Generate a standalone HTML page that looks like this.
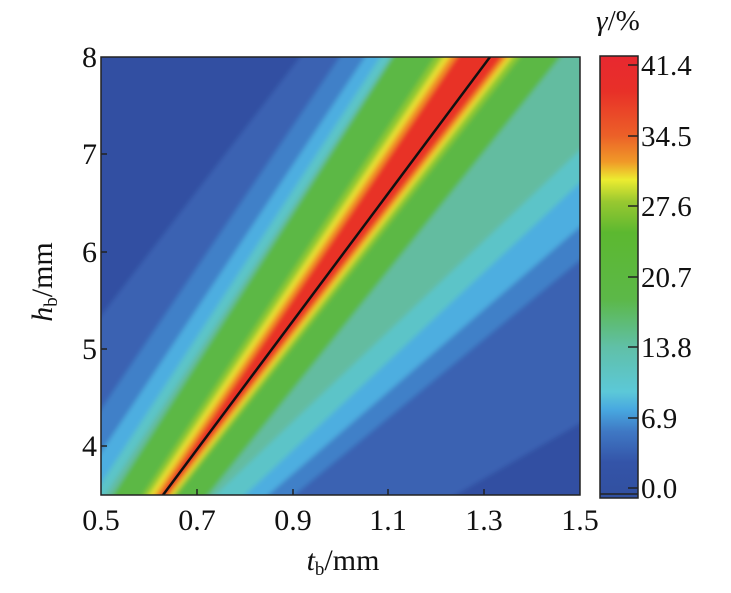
<!DOCTYPE html><html><head><style>body{margin:0;background:#fff}svg{display:block}text{font-family:"Liberation Serif",serif;fill:#111}</style></head><body>
<svg width="731" height="593" viewBox="0 0 731 593">
<defs>
<filter id="b" x="-10%" y="-10%" width="120%" height="120%"><feGaussianBlur stdDeviation="2.5"/></filter>
<linearGradient id="cb" x1="0" y1="0" x2="0" y2="1">
<stop offset="0" stop-color="#e82830"/>
<stop offset="0.08" stop-color="#e83028"/>
<stop offset="0.18" stop-color="#ec6028"/>
<stop offset="0.24" stop-color="#f09a28"/>
<stop offset="0.28" stop-color="#ecec30"/>
<stop offset="0.33" stop-color="#98c830"/>
<stop offset="0.40" stop-color="#5cb830"/>
<stop offset="0.55" stop-color="#5cb848"/>
<stop offset="0.66" stop-color="#60c0a8"/>
<stop offset="0.76" stop-color="#5cc8d8"/>
<stop offset="0.80" stop-color="#48a8e0"/>
<stop offset="0.85" stop-color="#3f78c4"/>
<stop offset="0.92" stop-color="#3454a8"/>
<stop offset="1" stop-color="#3150a0"/>
</linearGradient>
<clipPath id="c"><rect x="101" y="57" width="479" height="438"/></clipPath>
</defs>
<g clip-path="url(#c)">
<g filter="url(#b)">
<rect x="60" y="20" width="560" height="520" fill="#3250a2"/>
<polygon points="-56,520 321,30 1262,30 412,520" fill="#3a62b2"/>
<polygon points="26,520 358,30 860,30 264,520" fill="#4080c8"/>
<polygon points="56,520 383,30 809,30 239,520" fill="#4eaee0"/>
<polygon points="77,520 398,30 744,30 218,520" fill="#5cc4c8"/>
<polygon points="89,520 408,30 707,30 189,520" fill="#64bca0"/>
<polygon points="97,520 410,30 582,30 188,520" fill="#5cb844"/>
<polygon points="126,520 453,30 541,30 157,520" fill="#8cc830"/>
<polygon points="132,520 461,30 533,30 154,520" fill="#e8e030"/>
<polygon points="138,520 468,30 528,30 151,520" fill="#f09028"/>
<polygon points="143,520 475,30 523,30 148,520" fill="#e83028"/>
</g>
<line x1="163" y1="495" x2="490" y2="57" stroke="#111" stroke-width="2.5"/>
</g>
<rect x="101" y="57" width="479" height="438" fill="none" stroke="#222" stroke-width="1.5"/>
<g stroke="#222" stroke-width="1.5">
<line x1="197" y1="495" x2="197" y2="489"/><line x1="293" y1="495" x2="293" y2="489"/><line x1="388" y1="495" x2="388" y2="489"/><line x1="484" y1="495" x2="484" y2="489"/>
<line x1="101" y1="154" x2="107" y2="154"/><line x1="101" y1="252" x2="107" y2="252"/><line x1="101" y1="349" x2="107" y2="349"/><line x1="101" y1="446" x2="107" y2="446"/>
</g>
<g font-size="30" text-anchor="middle">
<text x="101" y="530">0.5</text><text x="197" y="530">0.7</text><text x="293" y="530">0.9</text><text x="388" y="530">1.1</text><text x="484" y="530">1.3</text><text x="580" y="530">1.5</text>
</g>
<g font-size="30" text-anchor="end">
<text x="97" y="67">8</text><text x="97" y="164">7</text><text x="97" y="262">6</text><text x="97" y="359">5</text><text x="97" y="456">4</text>
</g>
<text x="343" y="570" font-size="30" text-anchor="middle"><tspan font-style="italic">t</tspan><tspan font-size="19" dy="5">b</tspan><tspan dy="-5">/mm</tspan></text>
<text transform="translate(52,282) rotate(-90)" font-size="30" text-anchor="middle"><tspan font-style="italic">h</tspan><tspan font-size="19" dy="5">b</tspan><tspan dy="-5">/mm</tspan></text>
<rect x="600" y="56" width="38" height="442" fill="url(#cb)" stroke="#222" stroke-width="1.5"/>
<g stroke="#222" stroke-width="1.5">
<line x1="628" y1="65" x2="638" y2="65"/><line x1="628" y1="136" x2="638" y2="136"/><line x1="628" y1="206" x2="638" y2="206"/><line x1="628" y1="277" x2="638" y2="277"/><line x1="628" y1="347" x2="638" y2="347"/><line x1="628" y1="418" x2="638" y2="418"/><line x1="628" y1="488" x2="638" y2="488"/><line x1="600" y1="494" x2="638" y2="494"/>
</g>
<g font-size="29">
<text x="641" y="75">41.4</text><text x="641" y="146">34.5</text><text x="641" y="216">27.6</text><text x="641" y="287">20.7</text><text x="641" y="357">13.8</text><text x="641" y="428">6.9</text><text x="641" y="498">0.0</text>
</g>
<text x="618" y="30" font-size="29" text-anchor="middle"><tspan font-style="italic">γ</tspan>/%</text>
</svg>
</body></html>
